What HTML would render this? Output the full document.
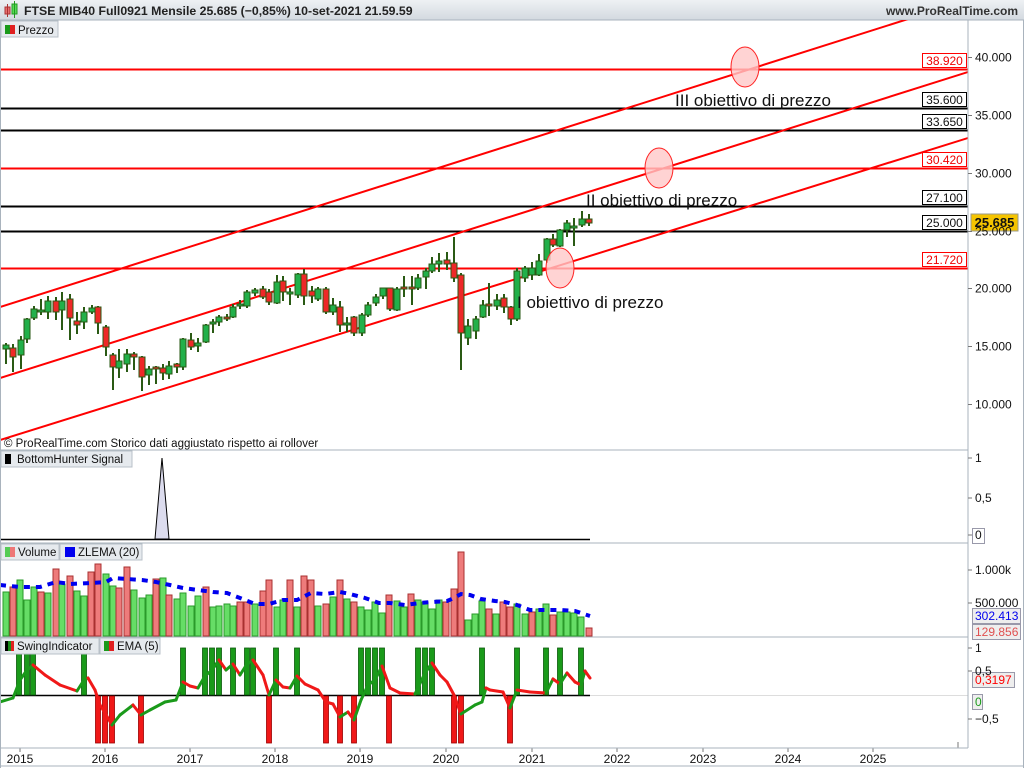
<!DOCTYPE html>
<html><head><meta charset="utf-8"><style>
html,body{margin:0;padding:0;background:#fff;width:1024px;height:768px;overflow:hidden}
svg{display:block;font-family:"Liberation Sans","DejaVu Sans",sans-serif}
</style></head><body>
<svg id="s" width="1024" height="768" xmlns="http://www.w3.org/2000/svg">
<defs>
<linearGradient id="hg" x1="0" y1="0" x2="0" y2="1"><stop offset="0" stop-color="#eef1f4"/><stop offset="1" stop-color="#d3d9e0"/></linearGradient>
<clipPath id="mc"><rect x="0" y="20" width="968" height="430"/></clipPath>
</defs>
<rect x="0" y="0" width="1024" height="20" fill="url(#hg)"/>
<line x1="0" y1="20" x2="1024" y2="20" stroke="#a9b3bd"/>
<rect x="5" y="7" width="5" height="7" fill="#e87070" stroke="#a33"/><line x1="7.5" y1="4" x2="7.5" y2="17" stroke="#a33"/>
<rect x="12" y="4" width="5" height="10" fill="#55dd55" stroke="#292"/><line x1="14.5" y1="1" x2="14.5" y2="18" stroke="#292"/>
<text x="24" y="15" font-size="12.3" font-weight="bold" fill="#222">FTSE MIB40 Full0921 Mensile 25.685 (−0,85%) 10-set-2021 21.59.59</text>
<text x="1018" y="15" font-size="12" font-weight="bold" fill="#333" text-anchor="end">www.ProRealTime.com</text>
<g id="main" clip-path="url(#mc)"></g>
<g id="rest"></g>
<line x1="968" y1="20" x2="968" y2="748" stroke="#a9b3bd"/>
<line x1="0" y1="450" x2="968" y2="450" stroke="#a9b3bd"/>
<line x1="0" y1="543" x2="968" y2="543" stroke="#a9b3bd"/>
<line x1="0" y1="637" x2="968" y2="637" stroke="#a9b3bd"/>
<line x1="0" y1="748" x2="968" y2="748" stroke="#a9b3bd"/>
<line x1="0" y1="766" x2="1024" y2="766" stroke="#a9b3bd"/>
<line x1="0.5" y1="20" x2="0.5" y2="768" stroke="#a9b3bd"/>
<line x1="1023.5" y1="20" x2="1023.5" y2="768" stroke="#a9b3bd"/>
<g font-size="11.5" fill="#111">
<rect x="1" y="21" width="57" height="16" fill="#e6eaee" stroke="#b8c0c8"/>
<rect x="5" y="25" width="5" height="9" fill="#1a9a1a"/><rect x="10" y="25" width="5" height="9" fill="#e02020"/>
<text x="18" y="34">Prezzo</text>
<text x="4" y="447" font-size="11.5">© ProRealTime.com  Storico dati aggiustato rispetto ai rollover</text>
<rect x="1" y="451" width="131" height="16" fill="#e6eaee" stroke="#b8c0c8"/>
<rect x="5" y="454" width="6" height="10" fill="#000"/>
<text x="17" y="463">BottomHunter Signal</text>
<rect x="1" y="544" width="58" height="16" fill="#e6eaee" stroke="#b8c0c8"/>
<rect x="5" y="547" width="5" height="10" fill="#5c5"/><rect x="10" y="547" width="5" height="10" fill="#e77"/>
<text x="18" y="556">Volume</text>
<rect x="60" y="544" width="82" height="16" fill="#e6eaee" stroke="#b8c0c8"/>
<rect x="65" y="547" width="10" height="10" fill="#0000ee"/>
<text x="78" y="556">ZLEMA (20)</text>
<rect x="1" y="638" width="98" height="16" fill="#e6eaee" stroke="#b8c0c8"/>
<rect x="5" y="641" width="3" height="10" fill="#000"/><rect x="8" y="641" width="3" height="10" fill="#1a8a1a"/><rect x="11" y="641" width="3" height="10" fill="#e02020"/>
<text x="17" y="650">SwingIndicator</text>
<rect x="100" y="638" width="60" height="16" fill="#e6eaee" stroke="#b8c0c8"/>
<rect x="104" y="641" width="5" height="10" fill="#1a9a1a"/><rect x="109" y="641" width="5" height="10" fill="#e02020"/>
<text x="117" y="650">EMA (5)</text>
</g>
<g font-size="12" fill="#111" id="ax"></g>
</svg>
<script>
var NS="http://www.w3.org/2000/svg";
function el(p,t,a,txt){var e=document.createElementNS(NS,t);for(var k in a)e.setAttribute(k,a[k]);if(txt!=null)e.textContent=txt;p.appendChild(e);return e;}
var M=document.getElementById('main'),R=document.getElementById('rest'),A=document.getElementById('ax');
function py(p){return 57+(40000-p)*0.011567;}
[[38920,'r'],[35600,'k'],[33650,'k'],[30420,'r'],[27100,'k'],[25000,'k'],[21720,'r']].forEach(function(h){
 var y=Math.round(py(h[0]))+0.5,c=h[1]=='r'?'#f00':'#000';
 el(M,'line',{x1:0,y1:y,x2:968,y2:y,stroke:c,'stroke-width':2});
 el(R,'rect',{x:922.5,y:y-16,width:44,height:14,fill:'#fff',stroke:c});
 el(R,'text',{x:944.5,y:y-4.5,'font-size':12,fill:h[1]=='r'?'#e00':'#111','text-anchor':'middle'},(h[0]/1000).toFixed(3));
});
[[0,307,905,20],[0,378,968,72],[0,440,968,138]].forEach(function(l){
 var s=(l[3]-l[1])/(l[2]-l[0]);
 el(M,'line',{x1:0,y1:l[1],x2:1000,y2:l[1]+s*1000,stroke:'#f00','stroke-width':2});
});
var C=[[6,345,349,'g',343,364],[13,348,357,'r',344,372],[21,340,355,'g',336,369],[27,319,339,'g',318,343],[34,309,318,'g',306,320],[41,310,312,'g',299,315],[48,301,312,'g',296,319],[56,301,312,'r',297,320],[62,301,310,'g',292,330],[70,299,318,'r',294,340],[77,321,325,'r',312,334],[84,312,322,'g',307,329],[92,308,312,'g',305,314],[98,307,323,'r',306,334],[106,327,347,'r',325,356],[113,355,367,'r',353,390],[119,361,368,'g',349,378],[127,354,364,'g',349,372],[134,354,357,'r',352,370],[142,357,377,'r',356,391],[149,369,375,'g',366,385],[156,367,369,'r',366,384],[163,368,373,'r',364,380],[169,366,374,'g',361,379],[177,364,367,'r',363,373],[183,339,367,'g',338,370],[191,340,347,'r',333,350],[198,343,346,'g',338,352],[206,325,342,'g',324,343],[213,322,324,'g',319,333],[219,317,322,'g',315,326],[227,317,319,'r',314,321],[233,307,317,'g',304,318],[240,304,306,'g',300,309],[247,292,306,'g',290,308],[255,290,293,'g',288,296],[263,289,297,'r',286,299],[269,292,302,'r',289,305],[277,282,303,'g',275,304],[283,281,292,'r',276,301],[290,292,294,'g',288,305],[298,274,295,'g',273,298],
[304,274,296,'r',269,305],[312,291,296,'r',286,303],[318,289,299,'g',287,301],[326,289,312,'r',287,314],[333,305,312,'g',298,315],[340,307,325,'r',301,332],[347,323,325,'g',317,332],[354,317,333,'r',316,336],[362,315,333,'g',313,336],[368,305,315,'g',302,317],[376,297,303,'g',294,306],[383,288,296,'g',288,299],[390,288,309,'r',288,311],[397,289,310,'g',287,311],[404,287,289,'r',276,297],[412,287,289,'r',276,305],[418,278,288,'g',274,290],[426,271,277,'g',268,289],[432,264,271,'g',257,273],[439,261,264,'g',253,272],[447,260,264,'r',252,270],[454,263,278,'r',237,282],[461,275,333,'r',273,370],[468,326,338,'g',319,345],[476,319,331,'g',316,339],[483,305,317,'g',300,318],[489,304,306,'r',283,316],[497,300,306,'g',294,310],[504,298,307,'r',294,313],[511,307,319,'r',306,325],[517,271,319,'g',268,321],[525,268,278,'g',266,282],[532,268,275,'g',262,280],[539,261,275,'g',254,276],[547,239,260,'g',238,263],[553,239,245,'r',234,247],[560,230,246,'g',229,247],[567,223,230,'g',220,237],[574,226,228,'g',218,246],[582,219,225,'g',211,227],[589,219,223,'r',214,226]];
C.forEach(function(c){
 el(M,'line',{x1:c[0],y1:c[4],x2:c[0],y2:c[5],stroke:'#2a5a14','stroke-width':2});
 el(M,'rect',{x:c[0]-3,y:c[1],width:6,height:Math.max(2,c[2]-c[1]),fill:c[3]=='g'?'#22b04a':'#ee2828',stroke:'#2a5a14','stroke-width':1});
});
[[745,67],[659,168],[560,268]].forEach(function(p){el(M,'ellipse',{cx:p[0],cy:p[1],rx:14,ry:20,fill:'#ffc8c8','fill-opacity':0.8,stroke:'#f22','stroke-width':1});});
el(M,'text',{x:675,y:106,'font-size':17,fill:'#111'},'III obiettivo di prezzo');
el(M,'text',{x:586,y:206,'font-size':17,fill:'#111'},'II obiettivo di prezzo');
el(M,'text',{x:517,y:308,'font-size':17,fill:'#111'},'I obiettivo di prezzo');
[[40000,'40.000'],[35000,'35.000'],[30000,'30.000'],[25000,'25.000'],[20000,'20.000'],[15000,'15.000'],[10000,'10.000']].forEach(function(t){
 var y=Math.round(py(t[0]))+0.5;
 el(A,'line',{x1:968,y1:y,x2:972,y2:y,stroke:'#777'});
 el(A,'text',{x:975,y:y+4},t[1]);
});
el(R,'rect',{x:971,y:214,width:47,height:17,fill:'#f5c400',stroke:'#998'});
el(R,'text',{x:994.5,y:227,'font-size':13,'font-weight':'bold','text-anchor':'middle',fill:'#111'},'25.685');
el(R,'polygon',{points:'155,539 162,458 169,539',fill:'#dcdcee',stroke:'#000'});
el(R,'line',{x1:0,y1:539.5,x2:590,y2:539.5,stroke:'#000','stroke-width':1.5});
[[458,'1'],[498,'0,5'],[535,'0']].forEach(function(t){el(A,'line',{x1:968,y1:t[0],x2:972,y2:t[0],stroke:'#777'});el(A,'text',{x:975,y:t[0]+4},t[1]);});
el(R,'rect',{x:972.5,y:528.5,width:12,height:15,fill:'none',stroke:'#99a'});
var V=[[6,592,'g'],[13,587,'r'],[20,580,'g'],[27,600,'g'],[34,587,'g'],[41,592,'r'],[48,593,'g'],[56,569,'r'],[62,584,'g'],[70,576,'r'],[77,591,'g'],[84,596,'g'],[91,572,'r'],[98,564,'r'],[106,574,'g'],[113,586,'g'],[119,588,'r'],[127,567,'r'],[134,590,'g'],[142,598,'g'],[149,595,'g'],[156,579,'r'],[163,578,'g'],[169,595,'r'],[177,599,'g'],[183,593,'g'],[191,606,'g'],[198,596,'g'],[206,587,'r'],[213,607,'g'],[219,606,'g'],[227,604,'g'],[233,606,'g'],[240,602,'r'],[247,602,'r'],[255,604,'g'],[263,591,'r'],[269,580,'r'],[277,607,'g'],[283,600,'g']];
var vx=[290,297,304,311,318,326,333,340,347,354,361,368,375,382,389,397,404,411,418,425,432,439,446,454,461,468,475,482,489,496,503,510,517,525,532,539,546,553,560,567,574,581,589];
var vy=[580,607,576,580,606,604,597,580,599,602,607,610,602,613,595,601,607,594,600,602,609,600,602,589,552,620,614,601,609,614,602,607,604,614,612,609,604,615,612,612,613,617,628];
var vc='rgrrgrgrgrggggrggrggggrrrgggrgrrggrggrggggr';
for(var i=0;i<vx.length;i++){V.push([vx[i],vy[i],vc.charAt(i)]);}
V.forEach(function(v){el(R,'rect',{x:v[0]-3,y:v[1],width:6,height:636-v[1],fill:v[2]=='g'?'#66dd66':'#ee7b7b',stroke:v[2]=='g'?'#2a9a2a':'#a83030','stroke-width':1});});
var Z=[[0,585],[20,587],[40,587],[56,582],[70,584],[91,583],[106,582],[113,578],[127,579],[142,580],[156,582],[170,585],[183,588],[198,590],[213,592],[227,593],[240,598],[255,604],[269,604],[283,600],[297,600],[311,593],[325,594],[340,592],[350,594],[365,598],[379,603],[390,603],[405,605],[420,603],[432,602],[447,601],[454,598],[461,594],[470,595],[481,599],[495,601],[505,602],[517,605],[530,610],[545,610],[560,610],[575,611],[590,616]];
el(R,'polyline',{points:Z.map(function(p){return p.join(',')}).join(' '),fill:'none',stroke:'#0000ee','stroke-width':4,'stroke-dasharray':'6,6'});
[[570,'1.000k'],[603,'500.000']].forEach(function(t){el(A,'line',{x1:968,y1:t[0],x2:972,y2:t[0],stroke:'#777'});el(A,'text',{x:975,y:t[0]+4},t[1]);});
el(R,'rect',{x:972.5,y:608.5,width:48,height:15,fill:'#eee',stroke:'#99a'});
el(R,'text',{x:975,y:620,'font-size':12,fill:'#0000ee'},'302.413');
el(R,'rect',{x:972.5,y:624.5,width:48,height:15,fill:'#eee',stroke:'#99a'});
el(R,'text',{x:975,y:636,'font-size':12,fill:'#e05050'},'129.856');
el(R,'line',{x1:0,y1:695.5,x2:590,y2:695.5,stroke:'#000','stroke-width':1.5});
el(R,'line',{x1:590,y1:695.5,x2:968,y2:695.5,stroke:'#ddd'});
[19,27,33,84,183,205,212,219,233,247,253,276,297,361,368,375,382,418,425,432,482,517,546,560,581].forEach(function(x){el(R,'rect',{x:x-2.5,y:648,width:5,height:47,fill:'#1a9a1a',stroke:'#0a5a0a','stroke-width':0.8});});
[98,105,112,141,269,326,340,354,389,454,461,510].forEach(function(x){el(R,'rect',{x:x-2.5,y:696,width:5,height:47,fill:'#f01818',stroke:'#900','stroke-width':0.8});});
var E=[[0,702],[13,698],[20,680],[27,670],[33,665],[45,675],[60,685],[77,691],[84,680],[88,678],[95,690],[100,705],[105,713],[112,725],[120,715],[133,705],[141,715],[150,710],[165,702],[176,700],[183,682],[190,686],[198,688],[205,676],[212,670],[219,660],[226,670],[233,664],[240,675],[247,664],[253,660],[263,675],[269,695],[276,680],[283,687],[290,688],[297,676],[305,684],[318,690],[326,702],[333,704],[340,717],[348,712],[354,720],[361,700],[368,685],[375,680],[382,666],[390,688],[400,693],[415,694],[425,673],[432,663],[440,675],[447,682],[454,695],[461,714],[475,705],[482,702],[486,688],[490,690],[503,692],[510,708],[517,690],[530,692],[546,693],[553,679],[560,684],[567,673],[575,682],[581,685],[585,671],[590,678]];
for(var j=1;j<E.length;j++){var a=E[j-1],b=E[j];el(R,'line',{x1:a[0],y1:a[1],x2:b[0],y2:b[1],stroke:b[1]<a[1]?'#1a9a1a':'#f01818','stroke-width':3,'stroke-linecap':'round'});}
[[648,'1'],[671,'0,5'],[719,'−0,5']].forEach(function(t){el(A,'line',{x1:968,y1:t[0],x2:972,y2:t[0],stroke:'#777'});el(A,'text',{x:975,y:t[0]+4},t[1]);});
el(R,'rect',{x:972.5,y:672.5,width:42,height:15,fill:'#eee',stroke:'#99a'});
el(R,'text',{x:975,y:684,'font-size':12,fill:'#f00'},'0,3197');
el(R,'rect',{x:972.5,y:694.5,width:10,height:15,fill:'#eee',stroke:'#99a'});
el(R,'text',{x:975,y:706,'font-size':12,fill:'#1a9a1a'},'0');
var yrs=[[20,'2015'],[105,'2016'],[190,'2017'],[275,'2018'],[360,'2019'],[446,'2020'],[532,'2021'],[617,'2022'],[703,'2023'],[788,'2024'],[873,'2025']];
yrs.forEach(function(t){el(R,'line',{x1:t[0],y1:748,x2:t[0],y2:752,stroke:'#777'});el(R,'text',{x:t[0],y:763,'font-size':12,'text-anchor':'middle',fill:'#111'},t[1]);});
el(R,'line',{x1:958,y1:742,x2:958,y2:748,stroke:'#777'});
</script>
</body></html>
